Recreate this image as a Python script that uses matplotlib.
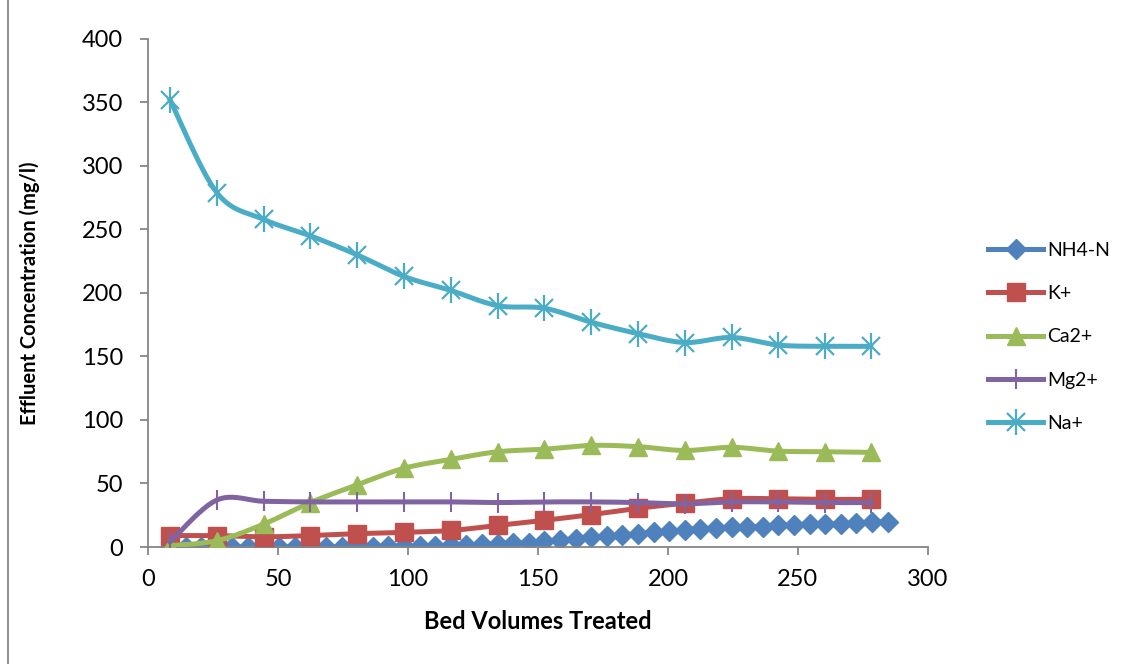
import matplotlib
matplotlib.use('Agg')
import matplotlib.pyplot as plt
from matplotlib.lines import Line2D
from matplotlib.legend_handler import HandlerTuple
import numpy as np

plt.rcParams['font.family'] = ['Lato', 'DejaVu Sans']

# --- data ---
bv_nh4 = [8.5, 14.5, 20.5, 26.5, 32.5, 38.5, 44.5, 50.5, 56.5, 62.5, 68.5, 74.5,
          80.5, 86.5, 92.5, 98.5, 104.5, 110.5, 116.5, 122.5, 128.5, 134.5, 140.5,
          146.5, 152.5, 158.5, 164.5, 170.5, 176.5, 182.5, 188.5, 194.5, 200.5,
          206.5, 212.5, 218.5, 224.5, 230.5, 236.5, 242.5, 248.5, 254.5, 260.5,
          266.5, 272.5, 278.5, 284.5]
nh4 = [0, 0, 0, 0, 0, 0, 0, 0, 0, 0, 0, 0,
       0, 0.3, 0.5, 0.5, 0.8, 1, 1.2, 1.5, 2, 2.5, 3,
       3.5, 4.5, 5.5, 6.5, 7.5, 8.5, 9.5, 10.5, 11.5, 12.5,
       13.5, 14.5, 15, 15.5, 16, 16, 17, 17.5, 18, 18,
       18.5, 19, 19.5, 20]

bv = [8.5, 26.5, 44.5, 62.5, 80.5, 98.5, 116.5, 134.5, 152.5, 170.5,
      188.5, 206.5, 224.5, 242.5, 260.5, 278]
k = [9, 9, 8, 9, 10.5, 11.5, 13, 17, 21, 25.5, 30.5, 34.5, 38, 38, 37.5, 37.5]
ca = [1, 5, 18, 35, 49, 62, 69, 75, 77, 80, 79, 76, 78.5, 75.5, 75, 74.5]
mg = [4, 37, 36, 35.5, 35.5, 35.5, 35.5, 35, 35.5, 35.5, 35, 34, 35.5, 35.5, 35, 35]
na = [352, 279, 258, 245, 230, 213, 202, 190, 188, 177, 168, 161, 165, 159, 158, 158]

c_blue = '#4F81BD'
c_red = '#C0504D'
c_green = '#9BBB59'
c_purple = '#8064A2'
c_aqua = '#4BACC6'


def smooth(x, y, n=24):
    # Catmull-Rom style curve through the points (Excel "smoothed line")
    x = np.asarray(x, float)
    y = np.asarray(y, float)
    px = np.concatenate([[x[0]], x, [x[-1]]])
    py = np.concatenate([[y[0]], y, [y[-1]]])
    xs, ys = [], []
    t = np.linspace(0, 1, n)
    for i in range(1, len(px) - 2):
        p0 = np.array([px[i], py[i]])
        p3 = np.array([px[i + 1], py[i + 1]])
        p1 = p0 + (np.array([px[i + 1], py[i + 1]]) - np.array([px[i - 1], py[i - 1]])) / 6
        p2 = p3 - (np.array([px[i + 2], py[i + 2]]) - np.array([px[i], py[i]])) / 6
        b = ((1 - t) ** 3)[:, None] * p0 + (3 * (1 - t) ** 2 * t)[:, None] * p1 \
            + (3 * (1 - t) * t ** 2)[:, None] * p2 + (t ** 3)[:, None] * p3
        xs.extend(b[:, 0])
        ys.extend(b[:, 1])
    return np.array(xs), np.array(ys)


fig = plt.figure(figsize=(11.33, 6.64), dpi=100)
ax = fig.add_axes([0.1306, 0.1762, 0.6884, 0.7651])

lw = 3.6

# NH4-N
sx, sy = smooth(bv_nh4, nh4)
ax.plot(sx, sy, color=c_blue, lw=lw, zorder=2)
ax.plot(bv_nh4, nh4, ls='none', marker='D', ms=10.5, color=c_blue, zorder=2)

# K+
sx, sy = smooth(bv, k)
ax.plot(sx, sy, color=c_red, lw=lw, zorder=3)
ax.plot(bv, k, ls='none', marker='s', ms=13, color=c_red, zorder=3)

# Ca2+
sx, sy = smooth(bv, ca)
ax.plot(sx, sy, color=c_green, lw=lw, zorder=4)
ax.plot(bv, ca, ls='none', marker='^', ms=13, color=c_green, zorder=4)

# Mg2+
sx, sy = smooth(bv, mg)
ax.plot(sx, sy, color=c_purple, lw=lw, zorder=5)
ax.plot(bv, mg, ls='none', marker='|', ms=15, mew=1.5, color=c_purple, zorder=5)

# Na+
sx, sy = smooth(bv, na)
ax.plot(sx, sy, color=c_aqua, lw=lw, zorder=6)
ax.plot(bv, na, ls='none', marker='x', ms=13, mew=1.6, color=c_aqua, zorder=6)
ax.plot(bv, na, ls='none', marker='|', ms=19, mew=1.6, color=c_aqua, zorder=6)

ax.set_xlim(0, 300)
ax.set_ylim(0, 400)
ax.set_xticks(np.arange(0, 301, 50))
ax.set_yticks(np.arange(0, 401, 50))

for s in ['top', 'right']:
    ax.spines[s].set_visible(False)
for s in ['left', 'bottom']:
    ax.spines[s].set_color('#868686')
    ax.spines[s].set_linewidth(1.3)
ax.tick_params(direction='out', length=6, width=1.3, color='#868686',
               labelsize=17)
ax.tick_params(axis='y', pad=12)
ax.tick_params(axis='x', pad=10)

ax.set_xlabel('Bed Volumes Treated', fontsize=17, fontweight='bold', va='center')
ax.set_ylabel('Effluent Concentration (mg/l)', fontsize=14.5, fontweight='bold', va='center')
ax.xaxis.set_label_coords(0.5, -0.146)
ax.yaxis.set_label_coords(-0.151, 0.5)

# legend
def handle(color, marker, ms, mew=1.0):
    return Line2D([], [], color=color, lw=lw, marker=marker, ms=ms, mew=mew)

handles = [
    handle(c_blue, 'D', 10),
    handle(c_red, 's', 13),
    handle(c_green, '^', 13),
    handle(c_purple, '|', 15, 1.5),
    (Line2D([], [], color=c_aqua, lw=lw, marker='x', ms=13, mew=1.6),
     Line2D([], [], color=c_aqua, lw=0, marker='|', ms=19, mew=1.6)),
]
labels = ['NH4-N', 'K+', 'Ca2+', 'Mg2+', 'Na+']
fig.legend(handles, labels, loc='center left', bbox_to_anchor=(0.857, 0.4925),
           frameon=False, fontsize=14, handlelength=2.8, handletextpad=0.2,
           labelspacing=1.35, handler_map={tuple: HandlerTuple(ndivide=1)})

# chart area border line on the left
fig.add_artist(Line2D([8 / 1133, 8 / 1133], [0, 1], color='#868686', lw=1.3))

fig.savefig('out.png', dpi=100)
